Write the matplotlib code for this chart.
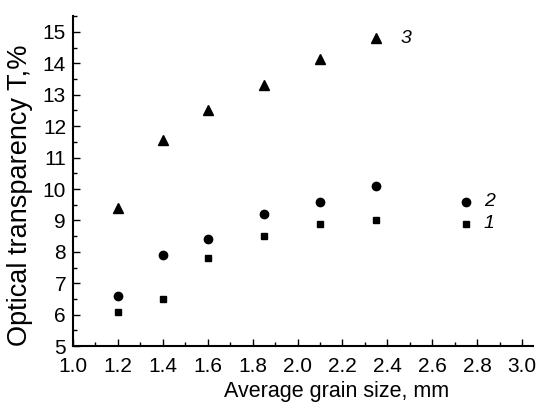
import matplotlib
matplotlib.use("Agg")
import matplotlib.pyplot as plt
from matplotlib.ticker import MultipleLocator

plt.rcParams['font.family'] = ['Liberation Sans', 'DejaVu Sans']

x_sq = [1.2, 1.4, 1.6, 1.85, 2.1, 2.35, 2.75]
y_sq = [6.1, 6.5, 7.8, 8.5, 8.9, 9.0, 8.9]
x_ci = [1.2, 1.4, 1.6, 1.85, 2.1, 2.35, 2.75]
y_ci = [6.6, 7.9, 8.4, 9.2, 9.6, 10.1, 9.6]
x_tr = [1.2, 1.4, 1.6, 1.85, 2.1, 2.35]
y_tr = [9.4, 11.55, 12.5, 13.3, 14.15, 14.8]
labels = ['1', '2', '3']
label_pos = [(2.83, 8.9), (2.83, 9.6), (2.46, 14.8)]

fig = plt.figure(figsize=(5.37, 4.03), dpi=100)
ax = fig.add_axes([0.136, 0.141, 0.857, 0.819])

ax.plot(x_sq, y_sq, 's', color='black', markersize=5)
ax.plot(x_ci, y_ci, 'o', color='black', markersize=6)
ax.plot(x_tr, y_tr, '^', color='black', markersize=6.5)
for lab, (lx, ly) in zip(labels, label_pos):
    ax.text(lx, ly, lab, fontsize=14, style='italic', va='center', ha='left')

ax.set_xlim(1.0, 3.05)
ax.set_ylim(5, 15.5)
ax.xaxis.set_major_locator(MultipleLocator(0.2))
ax.xaxis.set_minor_locator(MultipleLocator(0.1))
ax.yaxis.set_major_locator(MultipleLocator(1))
ax.yaxis.set_minor_locator(MultipleLocator(0.5))
ax.xaxis.set_major_formatter(plt.FormatStrFormatter('%.1f'))

for s in ['top', 'right']:
    ax.spines[s].set_visible(False)
for s in ['left', 'bottom']:
    ax.spines[s].set_linewidth(1.5)
ax.tick_params(which='major', direction='in', length=5, width=1, labelsize=15)
ax.tick_params(which='minor', direction='in', length=3, width=1)
ax.tick_params(axis='x', which='major', pad=8)
ax.tick_params(axis='y', which='major', pad=5)

ax.set_xlabel('Average grain size, mm', fontsize=15.5)
ax.xaxis.set_label_coords(0.572, -0.105)
ax.set_ylabel('Optical transparency T,%', fontsize=19.5)
ax.yaxis.set_label_coords(-0.087, 0.458)

fig.savefig('out.png', dpi=100)
